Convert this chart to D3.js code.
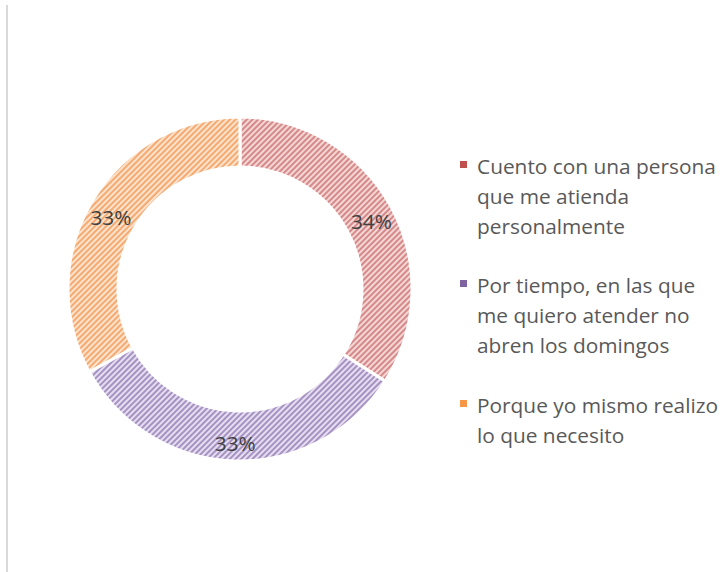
<!DOCTYPE html>
<html>
<head>
<meta charset="utf-8">
<script src="https://cdn.jsdelivr.net/npm/d3@7"></script>
<style>
  body { margin: 0; background: #fff; }
  svg { display: block; font-family: "Open Sans", Lato, sans-serif; }
</style>
</head>
<body>
<svg id="chart" width="725" height="572"></svg>
<script>
// chart data
var categories = [
  "Cuento con una persona que me atienda personalmente",
  "Por tiempo, en las que me quiero atender no abren los domingos",
  "Porque yo mismo realizo lo que necesito"
];
var legendLines = [
  ["Cuento con una persona", "que me atienda", "personalmente"],
  ["Por tiempo, en las que", "me quiero atender no", "abren los domingos"],
  ["Porque yo mismo realizo", "lo que necesito"]
];
var values = [34, 33, 33];
var labels = ["34%", "33%", "33%"];
var baseColors = ["#C0504D", "#8064A2", "#F79646"];
var lightColors = ["#f4d6d6", "#e6def0", "#fde3cb"];
var stripeColors = ["#d48a88", "#a592c2", "#f4aa72"];

var svg = d3.select("#chart");

// frame edge (only the left side shows)
svg.append("line")
    .attr("x1", 7).attr("x2", 7)
    .attr("y1", 5).attr("y2", 572)
    .attr("stroke", "#d9d9d9")
    .attr("stroke-width", 2);

// striped patterns, one per series
var defs = svg.append("defs");
baseColors.forEach(function(c, i) {
  var p = defs.append("pattern")
      .attr("id", "stripe" + i)
      .attr("patternUnits", "userSpaceOnUse")
      .attr("width", 4).attr("height", 4)
      .attr("patternTransform", "rotate(45)");
  p.append("rect").attr("width", 4).attr("height", 4).attr("fill", lightColors[i]);
  p.append("rect").attr("width", 2).attr("height", 4).attr("fill", stripeColors[i]);
});

var cx = 240, cy = 289, outerR = 172, innerR = 122;

var pie = d3.pie().sort(null).value(function(d) { return d; });
var arc = d3.arc().innerRadius(innerR).outerRadius(outerR);
var labelArc = d3.arc().innerRadius(150).outerRadius(150);

var g = svg.append("g")
    .attr("transform", "translate(" + cx + "," + cy + ")");

var arcs = pie(values);

g.selectAll(".slice")
  .data(arcs)
  .enter().append("path")
    .attr("class", "slice")
    .attr("d", arc)
    .attr("fill", function(d, i) { return "url(#stripe" + i + ")"; })
    .attr("stroke", "#fff")
    .attr("stroke-width", 3);

var pct = g.selectAll(".pct")
  .data(arcs)
  .enter().append("text")
    .attr("class", "pct")
    .attr("transform", function(d) { return "translate(" + labelArc.centroid(d) + ")"; })
    .attr("text-anchor", "middle")
    .attr("dy", "0.6em")
    .attr("fill", "#404040")
    .style("font-size", "19px")
    .text(function(d, i) { return labels[i]; });

// fit the label size so "34%" is about as wide as in the picture
var pw = pct.node().getComputedTextLength();
pct.style("font-size", (19 * 41 / pw) + "px");

// legend
var legendTop = [168, 287, 407];
var lineH = 30;
var legend = svg.append("g");
var texts = [];
legendLines.forEach(function(lines, i) {
  legend.append("rect")
      .attr("x", 460).attr("y", legendTop[i] - 7)
      .attr("width", 7).attr("height", 7)
      .attr("fill", baseColors[i]);
  var t = legend.append("text")
      .attr("x", 477)
      .attr("fill", "#595959")
      .style("font-size", "19px");
  lines.forEach(function(line, j) {
    t.append("tspan")
        .attr("x", 477)
        .attr("y", legendTop[i] + j * lineH + 6)
        .text(line);
  });
  texts.push(t);
});
// match the width of the first legend line (~239px)
var lw = texts[0].select("tspan").node().getComputedTextLength();
texts.forEach(function(t) { t.style("font-size", (19 * 239 / lw) + "px"); });
</script>
</body>
</html>
